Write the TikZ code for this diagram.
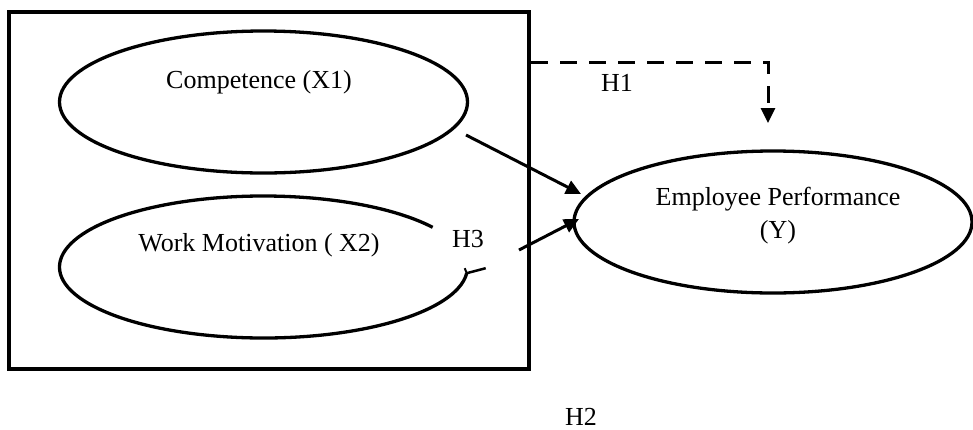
\documentclass[tikz,border=0pt]{standalone}
\usepackage{fontspec}
\setmainfont{Liberation Serif}
\usetikzlibrary{arrows.meta,shapes.geometric}
\begin{document}
\begin{tikzpicture}[x=1pt,y=-1pt,
  lbl/.style={anchor=base, inner sep=0pt, font=\fontsize{26}{33}\selectfont},
  oval/.style={draw, ellipse, line width=3.3pt, inner sep=0pt},
  thick line/.style={line width=3.3pt},
  conn/.style={line width=3pt, -{Triangle[length=15pt,width=14pt]}},
  dconn/.style={conn, dash pattern=on 17pt off 12pt}]
\useasboundingbox (0,0) rectangle (973,429);
% outer box
\node[draw, line width=4pt, minimum width=520pt, minimum height=357pt, inner sep=0pt] (box) at (269,190.5) {};
% ellipses
\node[oval, minimum width=408pt, minimum height=142pt] (e1) at (263.5,102) {};
\coordinate (e2) at (263.5,267);
\draw[thick line] ([shift={(-34:204 and 71)}]e2) arc[start angle=-34, end angle=-355, x radius=204, y radius=71] coordinate (e2end);
\draw[line width=2.5pt] (e2end) -- ++(19,-5) coordinate (e2tick);
\draw[line width=2pt] (e2end) -- ++(-2,-5) coordinate (e2barb);
\node[oval, minimum width=398pt, minimum height=142pt] (e3) at (773,222) {};
% labels
\node[lbl] (l1) at (259,88) {Competence (X1)};
\node[lbl] (l2) at (259,251) {Work Motivation ( X2)};
\node[lbl] (l3a) at (778,205) {Employee Performance};
\node[lbl] (l3b) at (778,238) {(Y)};
\node[lbl] (h1) at (617,91) {H1};
\node[lbl] (h2) at (581,425) {H2};
\node[lbl] (h3) at (468,247) {H3};
% connectors
\coordinate (a1s) at (466,135);
\coordinate (a1t) at (581,194);
\coordinate (a2s) at (519,250);
\coordinate (a2t) at (579,219);
\draw[conn] (a1s) -- (a1t);
\draw[conn] (a2s) -- (a2t);
\coordinate (d0) at (box.east |- 0,62);
\coordinate (dc) at (768,62);
\coordinate (d1) at (768,123);
\draw[dconn] (d0) -- (dc) -- (d1);
\end{tikzpicture}
\end{document}
